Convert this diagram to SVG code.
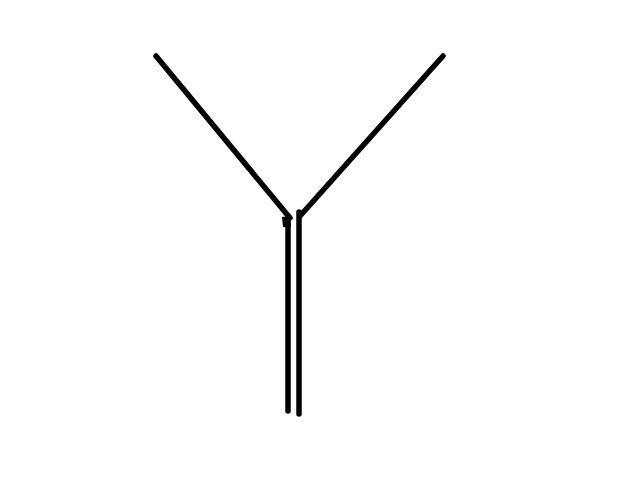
<svg xmlns="http://www.w3.org/2000/svg" width="640" height="480" viewBox="0 0 640 480">
<style>.l{stroke:#000;stroke-width:5.5;fill:none;stroke-linecap:round;stroke-linejoin:round}</style>
<rect width="640" height="480" fill="#fff"/>
<g id="connectors">
<path class="l" d="M156,56 L290,218"/>
<path class="l" d="M443,56 L300,216"/>
<path class="l" d="M288,222 L288,411"/>
<path class="l" d="M299,212 L299,414"/>
<path d="M282,217 L290,216 L291,227 L283,227 Z" fill="#000"/>
</g>
</svg>
